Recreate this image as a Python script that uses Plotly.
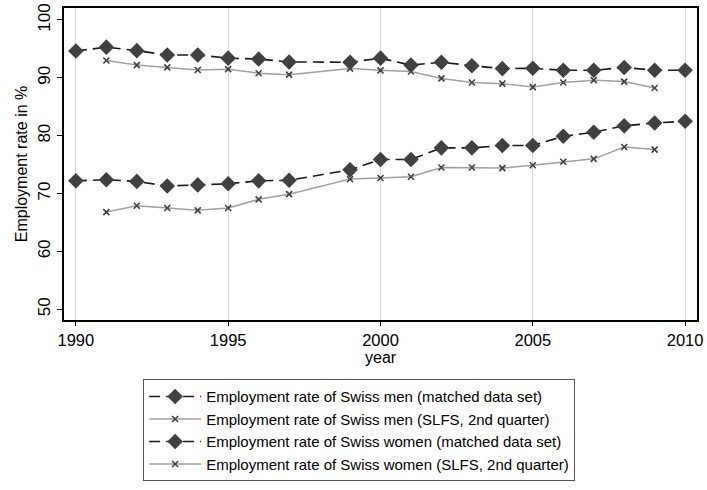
import plotly.graph_objects as go

years_matched = [1990, 1991, 1992, 1993, 1994, 1995, 1996, 1997, 1999, 2000,
                 2001, 2002, 2003, 2004, 2005, 2006, 2007, 2008, 2009, 2010]
men_matched = [94.65, 95.3, 94.7, 93.95, 93.95, 93.4, 93.25, 92.75, 92.7, 93.4,
               92.2, 92.7, 92.1, 91.6, 91.65, 91.3, 91.3, 91.8, 91.3, 91.3]
women_matched = [72.2, 72.4, 72.1, 71.3, 71.5, 71.7, 72.2, 72.3, 74.1, 75.9,
                 75.9, 77.9, 77.9, 78.3, 78.3, 79.9, 80.6, 81.7, 82.2, 82.5]

years_slfs = [1991, 1992, 1993, 1994, 1995, 1996, 1997, 1999, 2000,
              2001, 2002, 2003, 2004, 2005, 2006, 2007, 2008, 2009]
men_slfs = [93.0, 92.2, 91.8, 91.35, 91.5, 90.8, 90.55, 91.6, 91.3,
            91.1, 89.9, 89.2, 89.0, 88.4, 89.2, 89.6, 89.35, 88.25]
women_slfs = [66.8, 67.9, 67.5, 67.1, 67.5, 69.0, 69.9, 72.5, 72.7,
              72.9, 74.5, 74.5, 74.4, 74.9, 75.5, 76.0, 78.05, 77.6]

x_ticks = [1990, 1995, 2000, 2005, 2010]
y_ticks = [50, 60, 70, 80, 90, 100]

names = [
    "Employment rate of Swiss men (matched data set)",
    "Employment rate of Swiss men (SLFS, 2nd quarter)",
    "Employment rate of Swiss women (matched data set)",
    "Employment rate of Swiss women (SLFS, 2nd quarter)",
]

FONT = "Liberation Sans, Arial, sans-serif"

def matched(x, y, name, g):
    return go.Scatter(
        x=x, y=y, name=name, mode="lines+markers", legendgroup=g,
        line=dict(color="#1a1a1a", width=1.6, dash="11px,6px"),
        marker=dict(symbol="diamond", size=12, color="#404040",
                    line=dict(width=0)),
    )

def slfs(x, y, name, g):
    return go.Scatter(
        x=x, y=y, name=name, mode="lines+markers", legendgroup=g,
        line=dict(color="#a0a0a0", width=1.5),
        marker=dict(symbol="x-thin", size=6, color="#404040",
                    line=dict(width=1.6, color="#404040")),
    )

fig = go.Figure()
fig.add_trace(matched(years_matched, men_matched, names[0], "a"))
fig.add_trace(slfs(years_slfs, men_slfs, names[1], "b"))
fig.add_trace(matched(years_matched, women_matched, names[2], "c"))
fig.add_trace(slfs(years_slfs, women_slfs, names[3], "d"))

fig.update_layout(
    width=707, height=490,
    margin=dict(l=64, r=10, t=8, b=170, autoexpand=False),
    paper_bgcolor="white", plot_bgcolor="white",
    font=dict(family=FONT, size=16, color="black"),
    showlegend=True,
    legend=dict(
        x=0.125, xanchor="left",
        y=-0.19, yanchor="top",
        orientation="v",
        bordercolor="#555555", borderwidth=1,
        bgcolor="white",
        font=dict(family=FONT, size=15, color="black"),
        itemwidth=52,
        tracegroupgap=3,
        traceorder="normal",
    ),
    xaxis=dict(
        range=[1989.61, 2010.39],
        tickvals=x_ticks, ticktext=[str(v) for v in x_ticks],
        ticks="outside", ticklen=4, tickcolor="black",
        tickangle=0, automargin=False, ticklabeloverflow="allow",
        showline=True, linecolor="black", linewidth=1.5, mirror=True,
        showgrid=True, gridcolor="#dcdcdc", gridwidth=1,
        zeroline=False,
        tickfont=dict(size=16.5),
    ),
    yaxis=dict(
        range=[48.15, 102.07],
        tickvals=y_ticks, ticktext=[str(v) for v in y_ticks],
        ticks="outside", ticklen=5, tickcolor="black",
        tickangle=-90, automargin=False,
        showline=True, linecolor="black", linewidth=1.5, mirror=True,
        showgrid=False, zeroline=False,
        tickfont=dict(size=17),
        title=dict(text="Employment rate in %", font=dict(size=16), standoff=4),
    ),
    annotations=[dict(
        text="year", xref="paper", yref="paper", x=0.5, y=-0.12,
        xanchor="center", yanchor="middle", showarrow=False,
        font=dict(family=FONT, size=16, color="black"),
    )],
)

fig.write_html(
    "out.html",
    config={"displayModeBar": False},
    post_script="document.body.style.margin='0';document.body.style.padding='0';",
)
